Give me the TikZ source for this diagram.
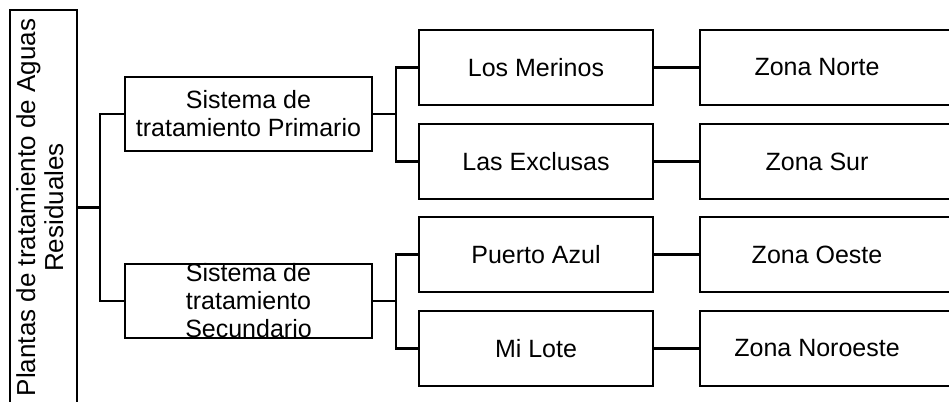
\documentclass[tikz,border=0pt]{standalone}
\usepackage{fontspec}
\setmainfont{Liberation Sans}
\begin{document}
\begin{tikzpicture}[x=1pt,y=-1pt,
  box/.style={draw=black,line width=2.1pt,fill=white,inner sep=0pt,align=center,
    font=\fontsize{25}{28}\selectfont},
  mid/.style={box,minimum width=234pt,minimum height=75pt},
  zone/.style={box,anchor=west,minimum height=75pt},
  link/.style={draw=black,line width=2.1pt}]
\useasboundingbox (0,0) rectangle (949,401);
\fill[white] (0,0) rectangle (949,401);
\clip (0,0) rectangle (949,401);

\node[box,minimum width=67pt,minimum height=395pt,font=\fontsize{26}{28}\selectfont] (root) at (43.5,207.5)
  {\rotatebox{90}{\begin{tabular}{@{}c@{}}Plantas de tratamiento de Aguas\\Residuales\end{tabular}}};

\node[box,minimum width=247pt,minimum height=74pt] (prim) at (248.5,114)
  {Sistema de\\tratamiento Primario};
\node[box,minimum width=247pt,minimum height=74pt] (sec) at (248.5,301)
  {\smash{\raisebox{-9pt}{\begin{tabular}{@{}c@{}}Sistema de\\tratamiento\\Secundario\end{tabular}}}};

\node[mid] (m1) at (536,67.5) {Los Merinos};
\node[mid] (m2) at (536,161.5) {Las Exclusas};
\node[mid] (m3) at (536,254.5) {Puerto Azul};
\node[mid] (m4) at (536,348.5) {Mi Lote};

\node[zone] (z1) at (699,67.5) {\makebox[234pt][c]{Zona Norte}\hspace*{42pt}};
\node[zone] (z2) at (699,161.5) {\makebox[234pt][c]{Zona Sur}\hspace*{42pt}};
\node[zone] (z3) at (699,254.5) {\makebox[234pt][c]{Zona Oeste}\hspace*{42pt}};
\node[zone] (z4) at (699,348.5) {\makebox[234pt][c]{Zona Noroeste}\hspace*{42pt}};

\coordinate (j0) at (100,207.5);
\coordinate (j1) at (396,114);
\coordinate (j2) at (396,301);

\draw[link] (root.east) -- (j0);
\draw[link] (prim.west) -| (j0) |- (sec.west);
\draw[link] (prim.east) -- (j1);
\draw[link] (m1.west) -| (j1) |- (m2.west);
\draw[link] (sec.east) -- (j2);
\draw[link] (m3.west) -| (j2) |- (m4.west);

\draw[link] (m1.east) -- (z1.west);
\draw[link] (m2.east) -- (z2.west);
\draw[link] (m3.east) -- (z3.west);
\draw[link] (m4.east) -- (z4.west);
\end{tikzpicture}
\end{document}
